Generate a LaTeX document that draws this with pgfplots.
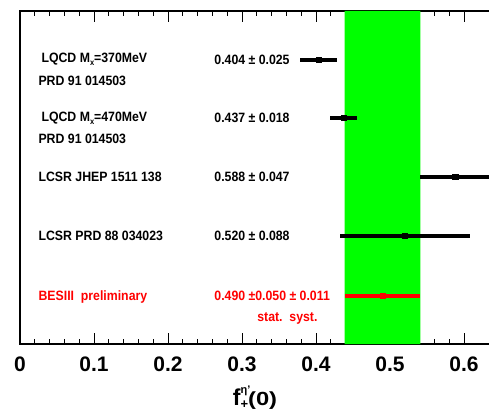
\documentclass[border=0pt]{standalone}
\usepackage{fontspec}
\setmainfont{Liberation Sans}
\usepackage{graphicx}
\usepackage{pgfplots}
\pgfplotsset{compat=1.18}
\definecolor{bandgreen}{RGB}{0,255,0}
\newcommand{\lab}[1]{\scalebox{1}[1.1]{\fontsize{12.3bp}{14bp}\selectfont\bfseries #1}}
\begin{document}
\begin{tikzpicture}
\begin{axis}[
  scale only axis, width=473.6bp, height=333bp,
  xmin=0, xmax=0.64, ymin=0, ymax=333,
  clip=false,
  axis line style={line width=1.6bp},
  xtick={0,0.1,0.2,0.3,0.4,0.5,0.6},
  xticklabels={0,0.1,0.2,0.3,0.4,0.5,0.6},
  minor x tick num=4,
  ytick=\empty,
  minor ytick={1.1,12.9,...,333},
  tick align=inside,
  major tick length=11bp, minor tick length=5bp,
  every tick/.style={line width=1bp, black},
  xticklabel style={font=\fontsize{21bp}{21bp}\selectfont\bfseries, yshift=-9bp},
]
% green band
\addplot[fill=bandgreen, draw=none] coordinates {(0.4388,0) (0.5412,0) (0.5412,333) (0.4388,333)} \closedcycle;
% theory points
\addplot[only marks, mark=square*, mark size=2.6bp, black,
  error bars/.cd, x dir=both, x explicit, error mark=none,
  error bar style={line width=4bp, black}]
  coordinates {
  (0.404,284) +- (0.025,0)
  (0.437,226) +- (0.018,0)
  (0.588,167) +- (0.047,0)
  (0.520,108) +- (0.088,0)
  };
% BESIII
\addplot[only marks, mark=square*, mark size=2.6bp, red,
  error bars/.cd, x dir=both, x explicit, error mark=none,
  error bar style={line width=4bp, red}]
  coordinates {(0.490,48.3) +- (0.0512,0)};
% labels
\node[anchor=base west] at (axis cs:0.0243,281.2) {\lab{LQCD M\raisebox{-2.5bp}{\fontsize{7.5bp}{8bp}\selectfont x}=370MeV}};
\node[anchor=base west] at (axis cs:0.0203,258.2) {\lab{PRD 91 014503}};
\node[anchor=base west] at (axis cs:0.0243,222.2) {\lab{LQCD M\raisebox{-2.5bp}{\fontsize{7.5bp}{8bp}\selectfont x}=470MeV}};
\node[anchor=base west] at (axis cs:0.0203,200.2) {\lab{PRD 91 014503}};
\node[anchor=base west] at (axis cs:0.0203,162.2) {\lab{LCSR JHEP 1511 138}};
\node[anchor=base west] at (axis cs:0.0203,103.2) {\lab{LCSR PRD 88 034023}};
\node[anchor=base west, red] at (axis cs:0.0203,43.2) {\lab{BESIII\ \ preliminary}};
\node[anchor=base west] at (axis cs:0.2580,279.2) {\lab{0.404 ± 0.025}};
\node[anchor=base west] at (axis cs:0.2580,221.2) {\lab{0.437 ± 0.018}};
\node[anchor=base west] at (axis cs:0.2580,162.2) {\lab{0.588 ± 0.047}};
\node[anchor=base west] at (axis cs:0.2580,103.2) {\lab{0.520 ± 0.088}};
\node[anchor=base west, red] at (axis cs:0.2580,43.2) {\lab{0.490 ±0.050 ± 0.011}};
\node[anchor=base west, red] at (axis cs:0.3160,22.2) {\lab{stat.\ \ syst.}};
% x label
\node[anchor=base west, inner sep=0pt] at (axis cs:0.2874,-61) {\bfseries\fontsize{23bp}{23bp}\selectfont f\rlap{\raisebox{12bp}{\fontsize{11bp}{11bp}\selectfont η'}}\raisebox{-3bp}{\fontsize{13bp}{13bp}\selectfont +}\scalebox{1.25}[1]{\fontsize{19bp}{19bp}\selectfont (0)}};
\end{axis}
\pgfresetboundingbox
\path[use as bounding box] (-20bp,-67bp) rectangle (469bp,344bp);
\end{tikzpicture}
\end{document}
